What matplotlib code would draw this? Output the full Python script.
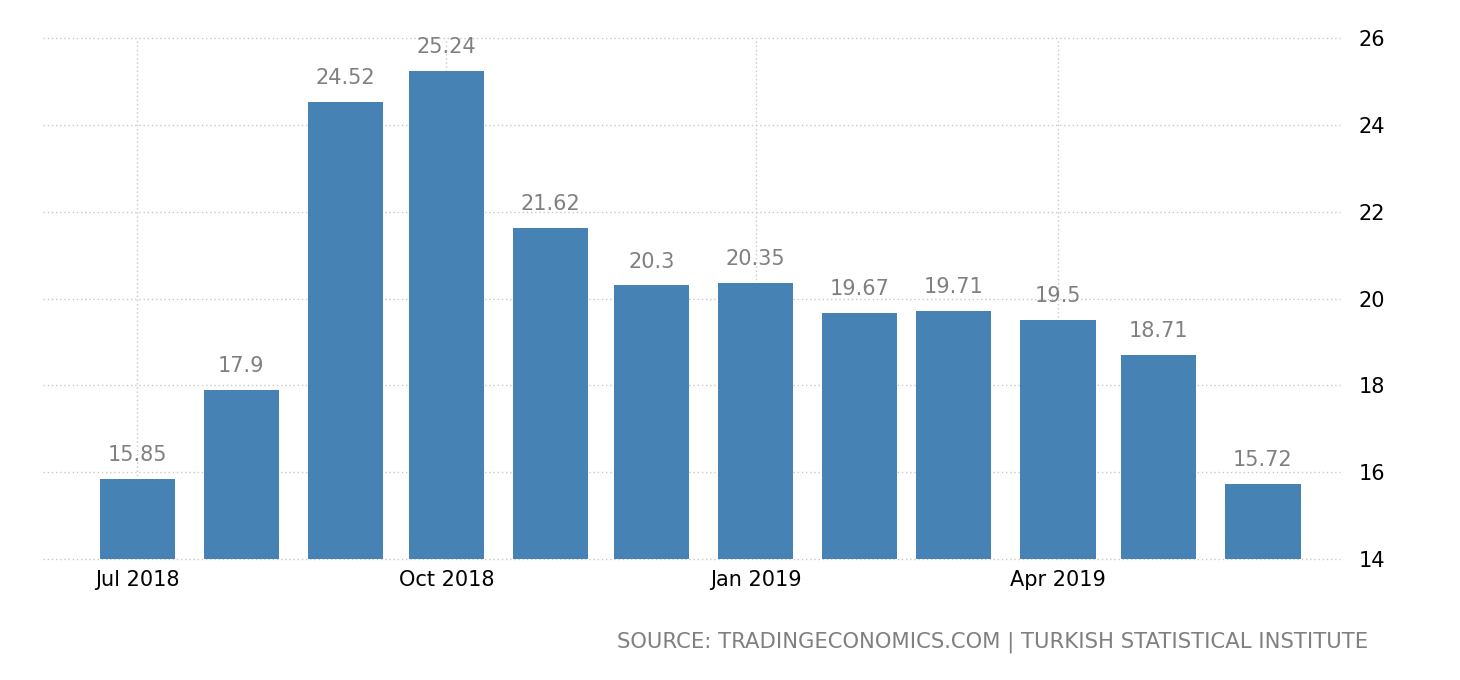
import matplotlib
matplotlib.use("Agg")
import matplotlib.pyplot as plt
import pandas as pd

# monthly values (Jul 2018 - Jun 2019)
months = pd.date_range("2018-07-01", "2019-06-01", freq="MS")
values = [15.85, 17.9, 24.52, 25.24, 21.62, 20.3, 20.35, 19.67, 19.71, 19.5, 18.71, 15.72]
labels = ["15.85", "17.9", "24.52", "25.24", "21.62", "20.3", "20.35", "19.67", "19.71", "19.5", "18.71", "15.72"]
tick_dates = pd.to_datetime(["2018-07-01", "2018-10-01", "2019-01-01", "2019-04-01"])
tick_labels = ["Jul 2018", "Oct 2018", "Jan 2019", "Apr 2019"]
yticks = [14, 16, 18, 20, 22, 24, 26]

fig = plt.figure(figsize=(14.6, 6.8), dpi=100)
ax = fig.add_axes([0.0295, 0.178, 0.8885, 0.766])

bar_color = "#4682b4"
ax.bar(months, [v - 14 for v in values], bottom=14, width=22.4, color=bar_color, zorder=2)

for d, v, t in zip(months, values, labels):
    ax.annotate(t, (d, v), xytext=(0, 10), textcoords="offset points",
                ha="center", va="bottom", fontsize=15, color="#808080")

ax.set_ylim(14, 26)
ax.set_xlim(pd.Timestamp("2018-06-03"), pd.Timestamp("2019-06-24"))
ax.set_yticks(yticks)
ax.set_xticks(tick_dates)
ax.set_xticklabels(tick_labels)
ax.yaxis.tick_right()
ax.tick_params(axis="y", length=0, pad=13, labelsize=15, labelcolor="black")
ax.tick_params(axis="x", length=0, pad=8, labelsize=15, labelcolor="black")
ax.grid(True, color="#c8c8c8", linestyle=(0, (1, 2)), linewidth=1.0, zorder=0)
for line in ax.get_xgridlines() + ax.get_ygridlines():
    line.set_clip_on(False)
for s in ax.spines.values():
    s.set_visible(False)

fig.text(1368 / 1460, 1 - 642 / 680, "SOURCE: TRADINGECONOMICS.COM | TURKISH STATISTICAL INSTITUTE",
         ha="right", va="center", fontsize=15.2, color="#808080")

fig.savefig("out.png", dpi=100)
